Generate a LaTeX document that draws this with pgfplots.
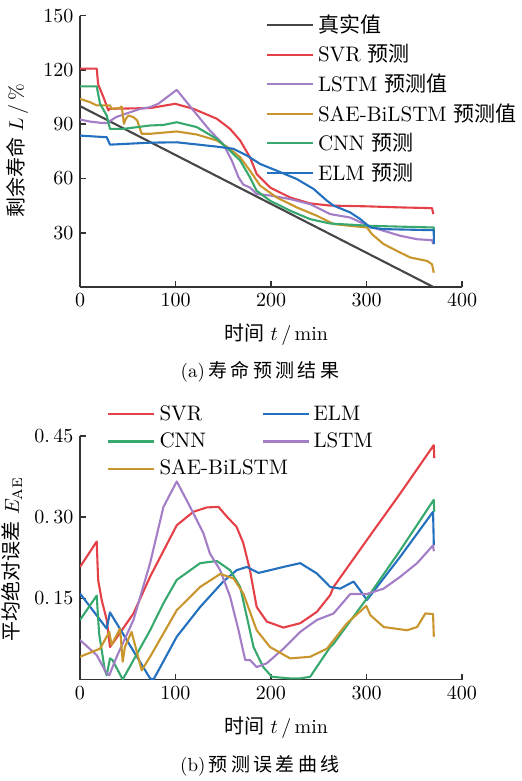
\documentclass[border=0pt]{standalone}
\usepackage{pgfplots}
\pgfplotsset{compat=1.18}
\usepackage{fontspec}
\newfontfamily\cjk{Noto Sans CJK SC}
\newfontfamily\cjkcap{Noto Sans CJK SC}[LetterSpace=18]
\definecolor{cTrue}{RGB}{70,70,70}
\definecolor{cSVR}{RGB}{228,64,72}
\definecolor{cLSTM}{RGB}{163,125,198}
\definecolor{cSAE}{RGB}{200,150,45}
\definecolor{cCNN}{RGB}{55,168,110}
\definecolor{cELM}{RGB}{35,112,190}
\begin{document}
\begin{tikzpicture}
\fontsize{9.5pt}{11pt}\selectfont
\useasboundingbox (0,0) rectangle (261pt,390.5pt);
\pgfplotsset{
  every axis/.append style={
    scale only axis, width=191pt,
    xmin=0, xmax=400,
    axis lines=left, axis line style={-, line width=0.9pt, black!80},
    tick style={line width=0.8pt, black!80},
    tick align=inside, major tick length=3pt,
    xtick={0,100,200,300,400},
    tick label style={font=\fontsize{10pt}{11pt}\selectfont},
    clip=true,
    every axis plot/.append style={line width=1.05pt, line join=round},
    legend cell align=left,
    legend image code/.code={\draw[#1, line width=1.05pt] (0pt,0pt) -- (23pt,0pt);},
  },
}
% ---------------- top axis ----------------
\begin{axis}[at={(40pt,247pt)}, anchor=south west, height=135.65pt,
  ymin=0, ymax=150, ytick={30,60,90,120,150},
  legend style={at={(0.47,1.035)}, anchor=north west, draw=none, fill=none,
    font=\fontsize{10.5pt}{12pt}\selectfont, row sep=0.6pt}]
\addplot[cTrue] coordinates {(0,100) (370,0)};
\addlegendentry{{\cjk 真实值}}
\addplot[cSVR] coordinates {(0,120.7) (17.5,120.7) (19,112) (24.5,105) (29.7,97.6) (31,98.5) (60,98.8) (73.4,98.9) (99.6,101.3) (118.8,98.5) (143.3,93) (157,87.5) (167.7,81) (178,71.7) (185,62.5) (199,55) (220,49.5) (241,46.2) (262,45) (300,44.6) (335.4,44) (368.6,43.6) (370,40.3)};
\addlegendentry{SVR {\cjk 预测}}
\addplot[cLSTM] coordinates {(0,92.6) (10,91.5) (21,90.8) (28,90.6) (38,94) (63,98.5) (73.4,99.4) (82,101.3) (101.3,109) (118.8,97.6) (136,86.5) (150,79) (159,69.9) (166,60.6) (171,56.6) (178,55) (185,51.4) (199,50.6) (220,48.6) (241,45.8) (262,40.3) (283,38.4) (304,33.3) (335.4,28.3) (353,26.4) (368.6,25.9) (370,23.7)};
\addlegendentry{LSTM {\cjk 预测值}}
\addplot[cSAE] coordinates {(0,104) (10.5,102.2) (17.5,100.4) (31.4,100.4) (33,98.5) (42,99) (43.7,99.8) (46,90.2) (48,93) (50.7,94.8) (56,93.9) (60,92) (64.6,84.7) (73.4,84.7) (101.3,86) (122.3,84.3) (143.3,81) (157,76.4) (167.7,71.7) (178,64.3) (188.7,56) (206,49.5) (227,44) (248,39.4) (265.5,34.8) (283,33.8) (300.5,32.9) (305.7,29.2) (318,23.7) (335.4,19) (346,16.3) (363.4,14.4) (368.6,12.6) (370.4,7.9)};
\addlegendentry{SAE-BiLSTM {\cjk 预测值}}
\addplot[cCNN] coordinates {(0,110.9) (17.5,110.9) (21,101.3) (28,94.8) (31.4,87.4) (45,87.4) (73.4,89.3) (87.4,89.6) (101.3,91.1) (122.3,88.4) (143.3,81.9) (157,75.4) (167.7,69.9) (178,60.6) (185,53.2) (199,47.7) (220,42.2) (241,37.5) (262,35.1) (304,33.8) (370.4,32.9) (370.6,31)};
\addlegendentry{CNN {\cjk 预测}}
\addplot[cELM] coordinates {(0,83.7) (28,82.8) (31.4,78.7) (73.4,79.8) (101.3,80) (143.3,77.6) (160.7,76.4) (174.7,72.7) (188.7,68) (206,64.3) (227,59.7) (244.6,54.2) (258.6,47.7) (265.5,45) (283,41.2) (293.5,37.5) (304,32.9) (318,32) (370.4,31.4) (370.6,23.7)};
\addlegendentry{ELM {\cjk 预测}}
\end{axis}
% ---------------- bottom axis ----------------
\begin{axis}[at={(40pt,50.75pt)}, anchor=south west, height=121.75pt,
  ymin=0, ymax=0.45, ytick={0.15,0.30,0.45}, yticklabels={0.\,15,0.\,30,0.\,45},
  legend columns=2,
  legend style={at={(0.055,1.16)}, anchor=north west, draw=none, fill=none,
    font=\fontsize{10.5pt}{12pt}\selectfont, row sep=0.8pt}]
\addplot[cSVR] coordinates {(0,0.208) (17.5,0.255) (19,0.184) (22.7,0.147) (28,0.110) (31.4,0.060) (36.7,0.073) (56,0.122) (73.4,0.190) (101.3,0.285) (118.8,0.310) (132.8,0.318) (145,0.319) (153.8,0.301) (164,0.282) (171,0.252) (178,0.202) (185,0.134) (195.6,0.107) (213,0.096) (230.6,0.104) (248,0.125) (262,0.156) (265.5,0.171) (300.5,0.258) (335.4,0.344) (370.4,0.433) (371,0.409)};
\addlegendentry{\makebox[49pt][l]{SVR}}
\addplot[cELM] coordinates {(0,0.159) (28,0.094) (31.4,0.124) (73.4,0.002) (77,0) (101.3,0.079) (125.8,0.134) (150,0.181) (164,0.202) (174.7,0.208) (187,0.197) (199,0.202) (213,0.208) (230.6,0.215) (248,0.196) (262,0.171) (272.5,0.168) (286.5,0.181) (292,0.168) (300.5,0.147) (335.4,0.227) (369.7,0.310) (370.5,0.248)};
\addlegendentry{ELM}
\addplot[cCNN] coordinates {(0,0.110) (17.5,0.155) (20,0.085) (26,0.017) (28,0.008) (31.4,0.039) (34,0.036) (44.7,0) (73.4,0.091) (87.4,0.141) (101.3,0.184) (125.8,0.215) (143.3,0.219) (157.2,0.202) (167.7,0.171) (174.7,0.116) (181.7,0.060) (191.8,0.023) (201,0.005) (220,0.002) (230.6,0.002) (241,0.005) (262,0.060) (265.5,0.066) (300.5,0.150) (335.4,0.239) (370.4,0.332) (371,0.310)};
\addlegendentry{\makebox[49pt][l]{CNN}}
\addplot[cLSTM] coordinates {(0,0.073) (17.5,0.045) (28,0.011) (30.7,0.008) (38.4,0.042) (56,0.110) (73.4,0.215) (87.4,0.319) (101.3,0.366) (115.3,0.319) (129.3,0.270) (136,0.233) (146.8,0.202) (157.2,0.153) (166,0.091) (173,0.036) (178,0.036) (185,0.023) (195.6,0.030) (213,0.057) (230.6,0.088) (248,0.110) (265.5,0.122) (283,0.158) (300.5,0.158) (318,0.168) (335.4,0.190) (353,0.215) (369.7,0.248) (370.5,0.237)};
\addlegendentry{LSTM}
\addplot[cSAE] coordinates {(0,0.042) (21,0.057) (30.7,0.088) (33,0.064) (42,0.094) (44.7,0.033) (47,0.060) (54,0.088) (64.6,0.017) (73.4,0.042) (101.3,0.128) (125.8,0.171) (146.8,0.195) (160.7,0.187) (171,0.159) (185,0.091) (199,0.060) (220,0.039) (241,0.042) (258.6,0.057) (279.6,0.104) (299.8,0.136) (304,0.119) (318,0.097) (342.5,0.091) (353,0.097) (361.6,0.122) (369.7,0.121) (370.5,0.079)};
\addlegendentry{\makebox[49pt][l]{SAE-BiLSTM}}
\end{axis}
% ---------------- labels ----------------
\node[rotate=90] at (8.5pt,315pt) {\fontsize{10pt}{11pt}\selectfont{\cjk 剩余寿命}\ $L$\,/\,\%};
\node at (138pt,223pt) {\fontsize{10pt}{11pt}\selectfont{\cjk 时间}\ $t$\,/\,min};
\node at (130pt,204.5pt) {\fontsize{9.5pt}{10pt}\selectfont (a)\,{\cjkcap 寿命预测结果}};
\node[rotate=90] at (6pt,111pt) {\fontsize{10pt}{11pt}\selectfont{\cjk 平均绝对误差}\ $E_{\mathrm{AE}}$};
\node at (138pt,26.5pt) {\fontsize{10pt}{11pt}\selectfont{\cjk 时间}\ $t$\,/\,min};
\node at (130pt,7.5pt) {\fontsize{9.5pt}{10pt}\selectfont (b)\,{\cjkcap 预测误差曲线}};
\end{tikzpicture}
\end{document}
